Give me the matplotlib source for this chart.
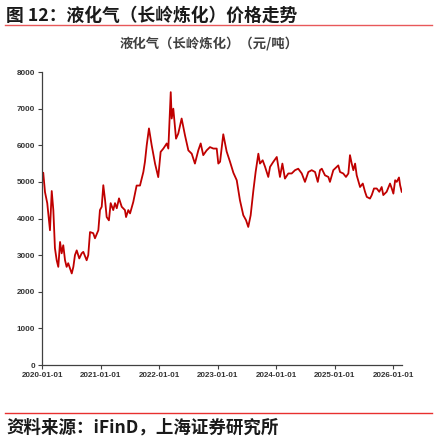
import numpy as np
import pandas as pd
import matplotlib
matplotlib.use("Agg")
import matplotlib.pyplot as plt

plt.rcParams['font.family'] = ['Noto Sans CJK SC', 'DejaVu Sans']

# LPG price, Changling refinery (yuan/ton)
dates = [
    "2020-01-01", "2020-01-07", "2020-01-18", "2020-02-01", "2020-02-18", "2020-02-29",
    "2020-03-10", "2020-03-20", "2020-03-31", "2020-04-10", "2020-04-21", "2020-05-01",
    "2020-05-11", "2020-05-22", "2020-06-01", "2020-06-11", "2020-07-03", "2020-07-13",
    "2020-07-23", "2020-08-03", "2020-08-19", "2020-09-03", "2020-09-13", "2020-10-04",
    "2020-10-14", "2020-10-25", "2020-11-14", "2020-11-25", "2020-12-16", "2020-12-26",
    "2021-01-06", "2021-01-16", "2021-01-27", "2021-02-06", "2021-02-20", "2021-03-03",
    "2021-03-19", "2021-03-30", "2021-04-10", "2021-04-24", "2021-05-11", "2021-05-31",
    "2021-06-07", "2021-06-21", "2021-07-02", "2021-07-22", "2021-08-12", "2021-09-02",
    "2021-09-23", "2021-10-03", "2021-10-14", "2021-10-28", "2021-11-14", "2021-12-05",
    "2021-12-25", "2022-01-09", "2022-01-26", "2022-02-16", "2022-02-26", "2022-03-13",
    "2022-03-19", "2022-03-29", "2022-04-15", "2022-04-29", "2022-05-20", "2022-06-10",
    "2022-07-01", "2022-07-22", "2022-08-11", "2022-09-01", "2022-09-16", "2022-10-02",
    "2022-10-23", "2022-11-13", "2022-12-04", "2022-12-25", "2023-01-04", "2023-01-15",
    "2023-02-04", "2023-02-25", "2023-03-18", "2023-04-08", "2023-04-29", "2023-05-19",
    "2023-06-09", "2023-06-26", "2023-07-10", "2023-07-25", "2023-08-11", "2023-08-25",
    "2023-09-11", "2023-09-21", "2023-10-08", "2023-10-23", "2023-11-12", "2023-11-23",
    "2023-12-13", "2024-01-04", "2024-01-24", "2024-02-08", "2024-02-24", "2024-03-16",
    "2024-04-06", "2024-04-27", "2024-05-17", "2024-06-08", "2024-06-28", "2024-07-19",
    "2024-08-09", "2024-08-30", "2024-09-16", "2024-09-30", "2024-10-11", "2024-10-31",
    "2024-11-21", "2024-12-01", "2024-12-22", "2025-01-12", "2025-01-22", "2025-02-02",
    "2025-02-22", "2025-03-11", "2025-03-26", "2025-04-05", "2025-04-16", "2025-04-26",
    "2025-05-07", "2025-05-17", "2025-06-07", "2025-06-24", "2025-07-08", "2025-07-19",
    "2025-08-08", "2025-08-19", "2025-09-02", "2025-09-19", "2025-10-05", "2025-10-20",
    "2025-10-30", "2025-11-20", "2025-12-11", "2025-12-22", "2026-01-01", "2026-01-12",
    "2026-01-22", "2026-02-05", "2026-02-12", "2026-02-22",
]
prices = [
    5150, 5250, 4720, 4420, 3680, 4750,
    4230, 3190, 2860, 2680, 3360, 3050,
    3270, 2860, 2680, 2780, 2500, 2680,
    3000, 3130, 2910, 3050, 3090, 2860,
    3000, 3630, 3600, 3460, 3680, 4230,
    4320, 4910, 4500, 4040, 3950, 4420,
    4230, 4420, 4280, 4550, 4320, 4230,
    4040, 4230, 4140, 4450, 4900, 4900,
    5270, 5550, 6000, 6460, 6000, 5500,
    5130, 5820, 5910, 6050, 5910, 7450,
    6730, 7000, 6180, 6320, 6730, 6270,
    5860, 5770, 5500, 5860, 6050, 5730,
    5860, 5950, 5910, 5910, 5500, 5550,
    6300, 5830, 5550, 5250, 5045, 4500,
    4090, 3955, 3770, 4090, 4770, 5270,
    5770, 5500, 5590, 5410, 5135, 5410,
    5545, 5680, 5135, 5500, 5090, 5230,
    5230, 5320, 5360, 5230, 5000, 5270,
    5320, 5270, 5000, 5320, 5360, 5180,
    5135, 5000, 5320, 5410, 5450, 5270,
    5230, 5135, 5230, 5730, 5500, 5320,
    5500, 5180, 4860, 4955, 4730, 4590,
    4545, 4640, 4820, 4820, 4730, 4860,
    4640, 4730, 4955, 4820, 4680, 5045,
    5000, 5120, 4910, 4730,
]
tick_dates = ["2020-01-01", "2021-01-01", "2022-01-01", "2023-01-01",
              "2024-01-01", "2025-01-01", "2026-01-01"]
y_ticks = [0, 1000, 2000, 3000, 4000, 5000, 6000, 7000, 8000]

x = pd.to_datetime(dates)

fig = plt.figure(figsize=(4.35, 4.41), dpi=100)
ax = fig.add_axes([0.0972, 0.1723, 0.827, 0.6644])

ax.plot(x, prices, color='#C00000', lw=1.3)

ax.set_ylim(0, 8000)
ax.set_xlim(pd.Timestamp("2020-01-01"), pd.Timestamp("2026-02-24"))
ax.set_yticks(y_ticks)
ax.set_xticks(pd.to_datetime(tick_dates))
ax.set_xticklabels(tick_dates)
ax.tick_params(axis='both', which='major', length=3, width=0.8, color='#404040',
               labelsize=5.8, labelcolor='#333333', pad=2)
for lab in ax.get_xticklabels() + ax.get_yticklabels():
    lab.set_fontweight('bold')
    lab.set_family(['Liberation Sans', 'DejaVu Sans'])

for side in ['top', 'right']:
    ax.spines[side].set_visible(False)
for side in ['left', 'bottom']:
    ax.spines[side].set_color('#404040')
    ax.spines[side].set_linewidth(0.9)

# header and footer
fig.text(0.014, 0.964, "图 12：液化气（长岭炼化）价格走势", fontsize=12.8, fontweight='bold',
         color='#1a1a1a', va='center', ha='left')
fig.add_artist(plt.Line2D([0.012, 0.993], [0.943, 0.943], color='#E8585A', lw=1.0))
fig.text(0.48, 0.902, "液化气（长岭炼化）（元/吨）", fontsize=9.6, fontweight='bold',
         color='#404040', va='center', ha='center')
fig.add_artist(plt.Line2D([0.012, 0.993], [0.063, 0.063], color='#E8302F', lw=1.0))
fig.text(0.014, 0.030, "资料来源：iFinD，上海证券研究所", fontsize=12.6, fontweight='bold',
         style='italic', color='#1a1a1a', va='center', ha='left')

fig.savefig("out.png", dpi=100)
